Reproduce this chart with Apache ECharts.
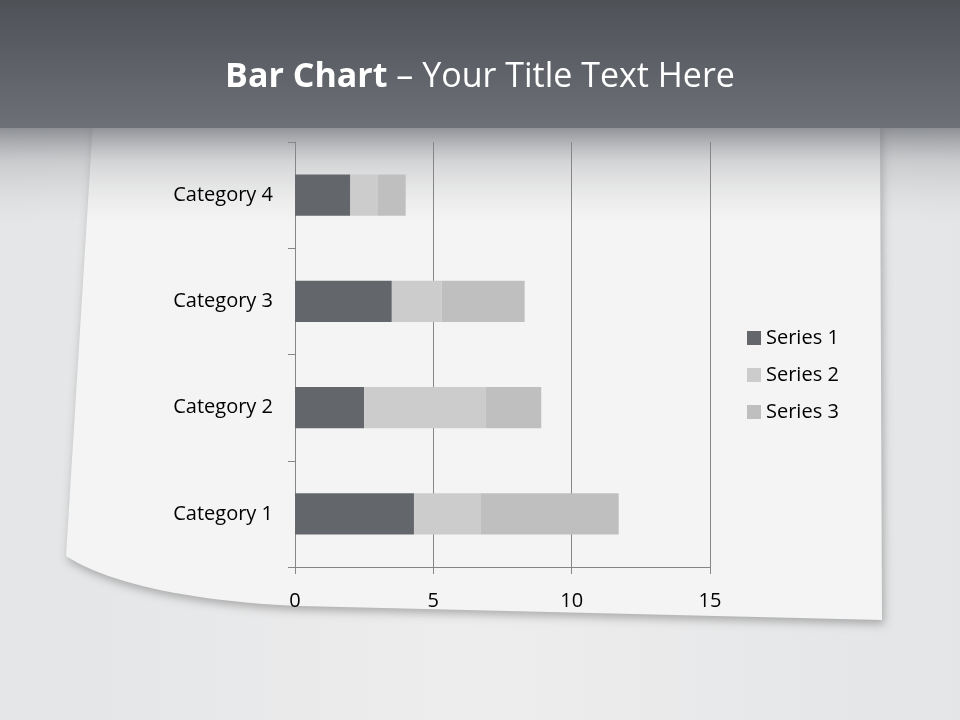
<!DOCTYPE html>
<html>
<head>
<meta charset="utf-8">
<style>html,body{margin:0;padding:0;background:#e7e8e9;}#c{width:960px;height:720px;}</style>
<script src="https://cdn.jsdelivr.net/npm/echarts@6/dist/echarts.min.js"></script>
</head>
<body>
<div id="c"></div>
<script>
var categories = ['Category 1', 'Category 2', 'Category 3', 'Category 4'];
var series1 = [4.3, 2.5, 3.5, 2.0];
var series2 = [2.4, 4.4, 1.8, 1.0];
var series3 = [5.0, 2.0, 3.0, 1.0];
var seriesNames = ['Series 1', 'Series 2', 'Series 3'];
var xTicks = [0, 5, 10, 15];

// decorative paper outline (curled bottom-left corner)
function paperPoints() {
  var pts = [[93, 120], [880, 120], [882, 620], [300, 606]];
  var p0 = [300, 606], c1 = [200, 602], c2 = [110, 585], p3 = [66, 556];
  for (var i = 1; i <= 24; i++) {
    var t = i / 24, u = 1 - t;
    pts.push([
      u*u*u*p0[0] + 3*u*u*t*c1[0] + 3*u*t*t*c2[0] + t*t*t*p3[0],
      u*u*u*p0[1] + 3*u*u*t*c1[1] + 3*u*t*t*c2[1] + t*t*t*p3[1]
    ]);
  }
  return pts;
}

var chart = echarts.init(document.getElementById('c'));
var font = 'Open Sans';
chart.setOption({
  animation: false,
  backgroundColor: '#e7e8e9',
  graphic: { elements: [
    { type: 'rect', z: -10, shape: { x: 0, y: 0, width: 960, height: 720 },
      style: { fill: new echarts.graphic.LinearGradient(0, 0, 1, 0, [
        { offset: 0, color: '#e4e5e6' }, { offset: 0.5, color: '#ededee' }, { offset: 1, color: '#e4e5e6' }]) } },
    { type: 'polygon', z: -9,
      shape: { points: paperPoints() },
      style: { fill: '#f4f4f4', shadowBlur: 10, shadowColor: 'rgba(0,0,0,0.28)', shadowOffsetX: 2, shadowOffsetY: 4 } },
    { type: 'rect', z: -8, shape: { x: 0, y: 128, width: 960, height: 95 },
      style: { fill: new echarts.graphic.LinearGradient(0, 0, 0, 1, [
        { offset: 0, color: 'rgba(112,115,122,0.75)' }, { offset: 0.35, color: 'rgba(150,152,156,0.35)' }, { offset: 1, color: 'rgba(200,201,203,0)' }]) } },
    { type: 'rect', z: -7, shape: { x: 0, y: 0, width: 960, height: 128 },
      style: { fill: new echarts.graphic.LinearGradient(0, 0, 0, 1, [
        { offset: 0, color: '#4e5156' }, { offset: 1, color: '#6d7077' }]) } }
  ]},
  title: {
    text: '{b|Bar Chart} – Your Title Text Here',
    left: 'center', top: 55,
    textStyle: { color: '#ffffff', fontFamily: font, fontSize: 34, fontWeight: 'normal',
      rich: { b: { color: '#ffffff', fontFamily: font, fontSize: 34, fontWeight: 'bold' } } }
  },
  legend: {
    orient: 'vertical', left: 742, top: 323, itemWidth: 14, itemHeight: 14, itemGap: 17,
    icon: 'rect', data: seriesNames,
    textStyle: { color: '#000', fontFamily: font, fontSize: 20 }
  },
  grid: { left: 295, top: 142, width: 415, height: 425, containLabel: false },
  xAxis: {
    type: 'value', min: xTicks[0], max: xTicks[xTicks.length - 1], interval: 5,
    axisLine: { show: true, lineStyle: { color: '#868686' } },
    axisTick: { show: true, length: 7, lineStyle: { color: '#868686' } },
    splitLine: { show: true, lineStyle: { color: '#868686', width: 1 } },
    axisLabel: { color: '#000', fontFamily: font, fontSize: 20, margin: 24 }
  },
  yAxis: {
    type: 'category', data: categories,
    axisLine: { show: true, lineStyle: { color: '#868686' } },
    axisTick: { show: true, length: 7, lineStyle: { color: '#868686' } },
    axisLabel: { color: '#000', fontFamily: font, fontSize: 20, margin: 22 }
  },
  series: [
    { name: seriesNames[0], type: 'bar', stack: 's', data: series1, barWidth: '39%', itemStyle: { color: '#63666a' } },
    { name: seriesNames[1], type: 'bar', stack: 's', data: series2, barWidth: '39%', itemStyle: { color: '#cccccc' } },
    { name: seriesNames[2], type: 'bar', stack: 's', data: series3, barWidth: '39%', itemStyle: { color: '#bfbfbf' } }
  ]
});
</script>
</body>
</html>
